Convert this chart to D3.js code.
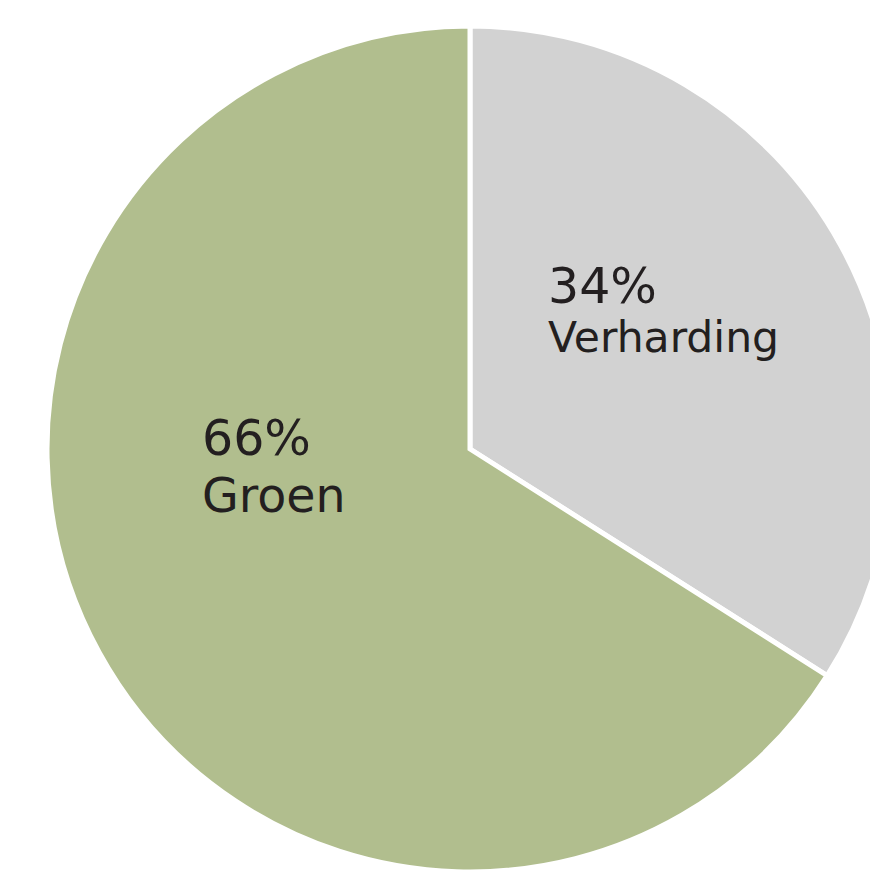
<!DOCTYPE html>
<html>
<head>
<meta charset="utf-8">
<script src="https://cdn.jsdelivr.net/npm/d3@7"></script>
<style>
  body { margin: 0; background: #fff; }
  svg { display: block; }
  text { font-family: "DejaVu Sans", Verdana, sans-serif; fill: #231f20; }
</style>
</head>
<body>
<svg width="870" height="878"></svg>
<script>
// pie data, clockwise from 12 o'clock
var categories = ["Verharding", "Groen"];
var values = [34, 66];
var colors = ["#d2d2d2", "#b1be8e"];

var svg = d3.select("svg"),
    cx = 470,
    cy = 449,
    radius = 423;

var pie = d3.pie()
    .sort(null)
    .value(function(d) { return d.value; });

var arc = d3.arc()
    .innerRadius(0)
    .outerRadius(radius);

var data = categories.map(function(c, i) {
  return { name: c, value: values[i], color: colors[i] };
});

var g = svg.append("g")
    .attr("transform", "translate(" + cx + "," + cy + ")");

g.selectAll("path")
  .data(pie(data))
  .enter().append("path")
    .attr("d", arc)
    .attr("fill", function(d) { return d.data.color; })
    .attr("stroke", "#fff")
    .attr("stroke-width", 5)
    .attr("stroke-linejoin", "miter");

// label placement (relative to pie center), as in the source
var labelPos = {
  "Verharding": { x: 78, y: -146, size1: 49, size2: 42.5, gap: 49 },
  "Groen": { x: -268, y: 6, size1: 49, size2: 47.5, gap: 57 }
};

var label = g.selectAll("g.label")
  .data(pie(data))
  .enter().append("g")
    .attr("class", "label")
    .attr("transform", function(d) {
      var p = labelPos[d.data.name];
      return "translate(" + p.x + "," + p.y + ")";
    });

label.append("text")
    .style("font-size", function(d) { return labelPos[d.data.name].size1 + "px"; })
    .text(function(d) { return d.data.value + "%"; });

label.append("text")
    .attr("y", function(d) { return labelPos[d.data.name].gap; })
    .style("font-size", function(d) { return labelPos[d.data.name].size2 + "px"; })
    .text(function(d) { return d.data.name; });
</script>
</body>
</html>
